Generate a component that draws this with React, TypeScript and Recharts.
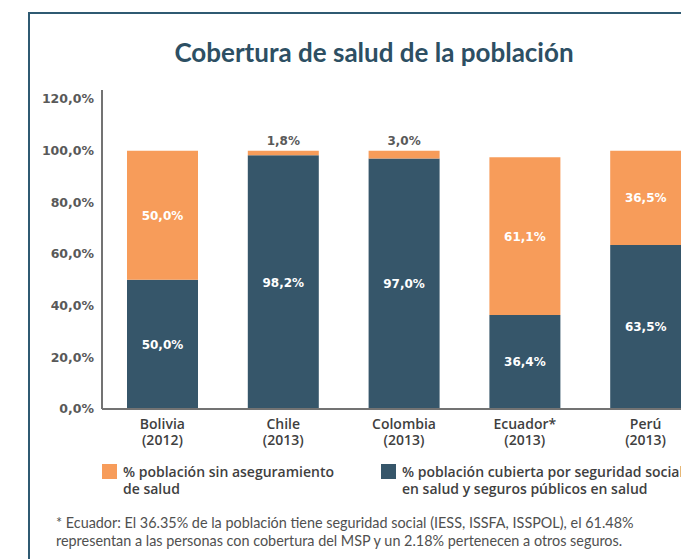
import { BarChart, Bar, XAxis, YAxis, LabelList } from 'recharts';

const countries = ['Bolivia', 'Chile', 'Colombia', 'Ecuador*', 'Perú'];
const years = ['(2012)', '(2013)', '(2013)', '(2013)', '(2013)'];
const covered = [50.0, 98.2, 97.0, 36.4, 63.5];
const uninsured = [50.0, 1.8, 3.0, 61.1, 36.5];
const yTicks = [0, 20, 40, 60, 80, 100, 120];

const data = countries.map((name, i) => ({
  name,
  year: years[i],
  covered: covered[i],
  uninsured: uninsured[i],
}));

const ORANGE = '#F79C5A';
const DARK = '#36566A';
const GRAY = '#595959';
const numFont = '"DejaVu Sans", Verdana, sans-serif';
const textFont = '"Open Sans", sans-serif';

const pct = (v: number) => `${v.toFixed(1).replace('.', ',')}%`;

function CategoryTick(props: any) {
  const { x, y, payload, index } = props;
  return (
    <g>
      <text x={x} y={y + 12} textAnchor="middle" fill="#3f3f3f" fontFamily={textFont} fontWeight={600} fontSize={14}>
        {payload.value}
      </text>
      <text x={x} y={y + 27.5} textAnchor="middle" fill="#3f3f3f" fontFamily={textFont} fontWeight={600} fontSize={14}>
        {years[index]}
      </text>
    </g>
  );
}

function InsideLabel(props: any) {
  const { x, y, width, height, value } = props;
  return (
    <text x={x + width / 2} y={y + height / 2} dy={4.5} textAnchor="middle" fill="#fff" fontFamily={numFont} fontWeight="bold" fontSize={12}>
      {pct(value)}
    </text>
  );
}

function UninsuredLabel(props: any) {
  const { x, y, width, height, value } = props;
  if (value < 10) {
    return (
      <text x={x + width / 2} y={y - 6} textAnchor="middle" fill={GRAY} fontFamily={numFont} fontWeight="bold" fontSize={12}>
        {pct(value)}
      </text>
    );
  }
  return <InsideLabel {...props} />;
}

function LegendItem({ color, lines, left, top }: { color: string; lines: string[]; left: number; top: number }) {
  return (
    <div style={{ position: 'absolute', left, top, display: 'flex', alignItems: 'flex-start' }}>
      <div style={{ width: 15, height: 15, background: color, marginTop: 1, marginRight: 6 }} />
      <div style={{ fontFamily: textFont, fontWeight: 600, fontSize: 14, lineHeight: '17px', color: '#3f3f3f', whiteSpace: 'nowrap' }}>
        {lines.map((l) => (
          <div key={l}>{l}</div>
        ))}
      </div>
    </div>
  );
}

export default function App() {
  return (
    <div style={{ position: 'relative', width: 681, height: 551, overflow: 'hidden', background: '#fff' }}>
      <div
        style={{
          position: 'absolute',
          left: 20,
          top: 4,
          right: -10,
          bottom: -10,
          borderLeft: '2px solid #2F5A72',
          borderTop: '2px solid #2F5A72',
        }}
      />
      <div
        style={{
          position: 'absolute',
          left: 0,
          width: 732,
          top: 28,
          textAlign: 'center',
          fontFamily: 'Lato, sans-serif',
          fontWeight: 700,
          fontSize: 26,
          color: '#2D4F63',
        }}
      >
        Cobertura de salud de la población
      </div>
      <div style={{ position: 'absolute', left: 0, top: 0 }}>
        <BarChart
          width={720}
          height={460}
          data={data}
          margin={{ top: 82, right: 22, left: 0, bottom: 14 }}
          barSize={71}
        >
          <XAxis
            dataKey="name"
            tick={<CategoryTick />}
            tickLine={false}
            axisLine={{ stroke: '#737373', strokeWidth: 2 }}
            height={45}
            interval={0}
          />
          <YAxis
            width={94}
            domain={[0, 123.5]}
            ticks={yTicks}
            allowDataOverflow
            tickFormatter={pct}
            tickLine={false}
            axisLine={{ stroke: '#737373', strokeWidth: 2 }}
            tick={{ fill: GRAY, fontFamily: numFont, fontWeight: 'bold', fontSize: 12.5 }}
          />
          <Bar dataKey="covered" stackId="a" fill={DARK} isAnimationActive={false}>
            <LabelList dataKey="covered" content={<InsideLabel />} />
          </Bar>
          <Bar dataKey="uninsured" stackId="a" fill={ORANGE} isAnimationActive={false}>
            <LabelList dataKey="uninsured" content={<UninsuredLabel />} />
          </Bar>
        </BarChart>
      </div>
      <LegendItem color={ORANGE} lines={['% población sin aseguramiento', 'de salud']} left={94} top={455} />
      <LegendItem color={DARK} lines={['% población cubierta por seguridad social', 'en salud y seguros públicos en salud']} left={373} top={455} />
      <div
        style={{
          position: 'absolute',
          left: 48,
          top: 506,
          fontFamily: 'Lato, sans-serif',
          fontSize: 14.4,
          lineHeight: '18px',
          color: '#505050',
          whiteSpace: 'nowrap',
        }}
      >
        <div>* Ecuador: El 36.35% de la población tiene seguridad social (IESS, ISSFA, ISSPOL), el 61.48%</div>
        <div>representan a las personas con cobertura del MSP y un 2.18% pertenecen a otros seguros.</div>
      </div>
    </div>
  );
}
